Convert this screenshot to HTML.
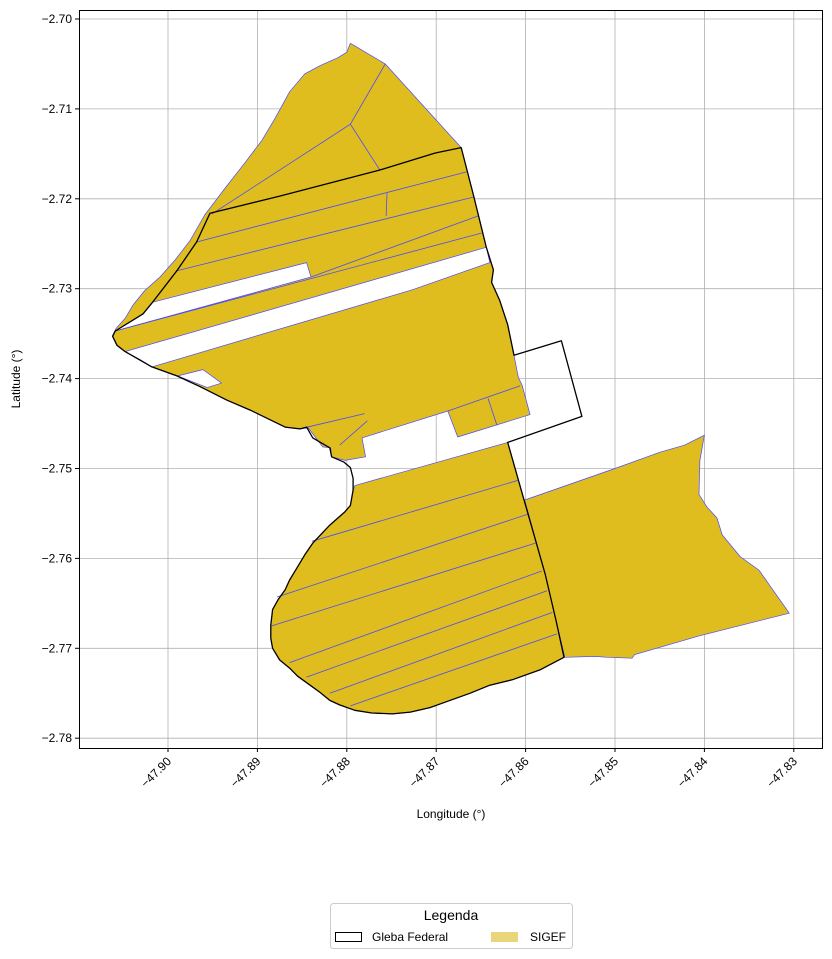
<!DOCTYPE html>
<html><head><meta charset="utf-8"><style>
body{margin:0;background:#fff;}
svg{display:block;font-family:"Liberation Sans","DejaVu Sans",sans-serif;}
</style></head><body>
<svg id="chart" width="832" height="959" viewBox="0 0 832 959">
<rect x="0" y="0" width="832" height="959" fill="#fff"/>
<g id="grid"></g>
<g id="layers"></g>
<rect x="79.5" y="10.5" width="743" height="738" fill="none" stroke="#000" stroke-width="1"/>
<g id="ticks"></g>
<text x="451" y="818" font-size="12" text-anchor="middle">Longitude (°)</text>
<text x="20" y="379" font-size="12" text-anchor="middle" transform="rotate(-90 20 379)">Latitude (°)</text>
<g>
<rect x="330.5" y="903.5" width="242" height="45" rx="3" fill="#fff" stroke="#ccc"/>
<text x="451" y="920" font-size="14" text-anchor="middle">Legenda</text>
<rect x="335.5" y="932.5" width="26" height="9" fill="#fff" stroke="#000"/>
<text x="372" y="941" font-size="12">Gleba Federal</text>
<rect x="491" y="932" width="27" height="10" fill="#e9d57a"/>
<text x="530" y="941" font-size="12">SIGEF</text>
</g>
</svg>
<script>
const xTicks=[-47.90,-47.89,-47.88,-47.87,-47.86,-47.85,-47.84,-47.83];
const xTickLabels=["\u221247.90","\u221247.89","\u221247.88","\u221247.87","\u221247.86","\u221247.85","\u221247.84","\u221247.83"];
const yTicks=[-2.70,-2.71,-2.72,-2.73,-2.74,-2.75,-2.76,-2.77,-2.78];
const yTickLabels=["\u22122.70","\u22122.71","\u22122.72","\u22122.73","\u22122.74","\u22122.75","\u22122.76","\u22122.77","\u22122.78"];

const sigefNorth=[[-47.9062,-2.7352],[-47.9058,-2.7344],[-47.9048,-2.7333],[-47.9039,-2.7318],[-47.9026,-2.7302],[-47.9009,-2.7287],[-47.8992,-2.7268],[-47.8975,-2.7246],[-47.8959,-2.7218],[-47.8936,-2.7188],[-47.8914,-2.7160],[-47.8895,-2.7135],[-47.8880,-2.7110],[-47.8864,-2.7081],[-47.8847,-2.7061],[-47.8830,-2.7052],[-47.8810,-2.7043],[-47.8800,-2.7037],[-47.8796,-2.7027],[-47.8757,-2.7050],[-47.8672,-2.7143],[-47.8658,-2.7197],[-47.8644,-2.7254],[-47.8636,-2.7279],[-47.8638,-2.7293],[-47.8629,-2.7313],[-47.8620,-2.7340],[-47.8613,-2.7374],[-47.8608,-2.7399],[-47.8604,-2.7407],[-47.8595,-2.7440],[-47.8676,-2.7465],[-47.8687,-2.7436],[-47.8783,-2.7466],[-47.8779,-2.7487],[-47.8802,-2.7491],[-47.8817,-2.7487],[-47.8818,-2.7477],[-47.8827,-2.7476],[-47.8843,-2.7455],[-47.8855,-2.7456],[-47.8869,-2.7454],[-47.8908,-2.7435],[-47.8934,-2.7424],[-47.8964,-2.7409],[-47.8990,-2.7397],[-47.9018,-2.7387],[-47.9048,-2.7370],[-47.9057,-2.7363],[-47.9062,-2.7353]];
const sigefSouth=[[-47.8791,-2.7519],[-47.8620,-2.7471],[-47.8600,-2.7541],[-47.8578,-2.7618],[-47.8566,-2.7669],[-47.8557,-2.7710],[-47.8584,-2.7724],[-47.8615,-2.7735],[-47.8640,-2.7741],[-47.8662,-2.7750],[-47.8690,-2.7760],[-47.8707,-2.7766],[-47.8729,-2.7771],[-47.8749,-2.7773],[-47.8772,-2.7772],[-47.8791,-2.7769],[-47.8808,-2.7763],[-47.8819,-2.7758],[-47.8830,-2.7749],[-47.8841,-2.7741],[-47.8855,-2.7731],[-47.8864,-2.7722],[-47.8875,-2.7713],[-47.8883,-2.7700],[-47.8885,-2.7689],[-47.8885,-2.7674],[-47.8883,-2.7657],[-47.8877,-2.7646],[-47.8869,-2.7635],[-47.8864,-2.7624],[-47.8856,-2.7611],[-47.8847,-2.7596],[-47.8838,-2.7583],[-47.8819,-2.7563],[-47.8802,-2.7548],[-47.8796,-2.7541],[-47.8793,-2.7524]];
const sigefEast=[[-47.8601,-2.7535],[-47.8500,-2.7500],[-47.8450,-2.7482],[-47.8422,-2.7474],[-47.8400,-2.7463],[-47.8405,-2.7491],[-47.8406,-2.7529],[-47.8397,-2.7543],[-47.8386,-2.7555],[-47.8380,-2.7574],[-47.8360,-2.7598],[-47.8339,-2.7613],[-47.8305,-2.7661],[-47.8405,-2.7686],[-47.8478,-2.7707],[-47.8481,-2.7711],[-47.8509,-2.7710],[-47.8522,-2.7709],[-47.8556,-2.7710],[-47.8566,-2.7669],[-47.8578,-2.7618]];
const gapA=[[-47.9017,-2.7315],[-47.8845,-2.7271],[-47.8840,-2.7287],[-47.9059,-2.7347],[-47.9028,-2.7328]];
const gapB=[[-47.9048,-2.7370],[-47.8644,-2.7254],[-47.8640,-2.7271],[-47.8726,-2.7301],[-47.9018,-2.7387],[-47.9031,-2.7379]];
const gapC=[[-47.8989,-2.7397],[-47.8961,-2.7390],[-47.8940,-2.7405],[-47.8956,-2.7410]];
const parcelLines=[
[[-47.8951,-2.7217],[-47.8796,-2.7117]],[[-47.8796,-2.7117],[-47.8757,-2.7050]],[[-47.8796,-2.7117],[-47.8763,-2.7168]],
[[-47.8968,-2.7248],[-47.8666,-2.7170]],[[-47.8990,-2.7280],[-47.8658,-2.7198]],[[-47.8840,-2.7287],[-47.8653,-2.7219]],
[[-47.9059,-2.7347],[-47.8649,-2.7238]],[[-47.8755,-2.7194],[-47.8756,-2.7219]],[[-47.8687,-2.7436],[-47.8606,-2.7408]],
[[-47.8642,-2.7422],[-47.8632,-2.7452]],[[-47.8853,-2.7456],[-47.8780,-2.7439]],[[-47.8777,-2.7447],[-47.8808,-2.7474]],
[[-47.8839,-2.7581],[-47.8608,-2.7513]],[[-47.8878,-2.7643],[-47.8598,-2.7551]],[[-47.8884,-2.7675],[-47.8589,-2.7583]],
[[-47.8864,-2.7716],[-47.8582,-2.7614]],[[-47.8845,-2.7732],[-47.8576,-2.7636]],[[-47.8819,-2.7750],[-47.8570,-2.7660]],
[[-47.8796,-2.7764],[-47.8565,-2.7684]]];
const glebaOutline=[[-47.8953,-2.7216],[-47.8875,-2.7197],[-47.8763,-2.7168],[-47.8701,-2.7149],[-47.8672,-2.7143],[-47.8658,-2.7197],[-47.8644,-2.7254],[-47.8636,-2.7279],[-47.8638,-2.7293],[-47.8629,-2.7313],[-47.8620,-2.7340],[-47.8613,-2.7374],[-47.8560,-2.7358],[-47.8537,-2.7442],[-47.8620,-2.7471],[-47.8600,-2.7541],[-47.8578,-2.7618],[-47.8566,-2.7669],[-47.8557,-2.7710],[-47.8584,-2.7724],[-47.8615,-2.7735],[-47.8640,-2.7741],[-47.8662,-2.7750],[-47.8690,-2.7760],[-47.8707,-2.7766],[-47.8729,-2.7771],[-47.8749,-2.7773],[-47.8772,-2.7772],[-47.8791,-2.7769],[-47.8808,-2.7763],[-47.8819,-2.7758],[-47.8830,-2.7749],[-47.8841,-2.7741],[-47.8855,-2.7731],[-47.8864,-2.7722],[-47.8875,-2.7713],[-47.8883,-2.7700],[-47.8885,-2.7689],[-47.8885,-2.7674],[-47.8883,-2.7657],[-47.8877,-2.7646],[-47.8869,-2.7635],[-47.8864,-2.7624],[-47.8856,-2.7611],[-47.8847,-2.7596],[-47.8838,-2.7583],[-47.8819,-2.7563],[-47.8802,-2.7548],[-47.8796,-2.7541],[-47.8793,-2.7524],[-47.8793,-2.7511],[-47.8796,-2.7499],[-47.8803,-2.7493],[-47.8817,-2.7487],[-47.8819,-2.7477],[-47.8838,-2.7466],[-47.8845,-2.7454],[-47.8852,-2.7456],[-47.8869,-2.7454],[-47.8908,-2.7435],[-47.8934,-2.7424],[-47.8964,-2.7409],[-47.8990,-2.7397],[-47.9018,-2.7387],[-47.9048,-2.7370],[-47.9057,-2.7363],[-47.9062,-2.7353],[-47.9059,-2.7347],[-47.9028,-2.7328],[-47.9018,-2.7316],[-47.8990,-2.7280],[-47.8968,-2.7248],[-47.8953,-2.7216]];

const NS="http://www.w3.org/2000/svg";
function xS(lon){return 168+(lon+47.90)*8940;}
function yS(lat){return 19+(-2.70-lat)*8990;}
function pts(a){return a.map(p=>xS(p[0]).toFixed(1)+","+yS(p[1]).toFixed(1)).join(" ");}
const grid=document.getElementById("grid"),ticks=document.getElementById("ticks"),layers=document.getElementById("layers");
xTicks.forEach((v,i)=>{
  const x=xS(v);
  const g=document.createElementNS(NS,"line");
  
  
  g.setAttribute("x1",x);g.setAttribute("x2",x);g.setAttribute("y1",10);g.setAttribute("y2",748);
  g.setAttribute("stroke","#b0b0b0");g.setAttribute("stroke-width","0.8");grid.appendChild(g);
  const t=document.createElementNS(NS,"line");
  
  
  t.setAttribute("x1",x);t.setAttribute("x2",x);t.setAttribute("y1",748);t.setAttribute("y2",752);t.setAttribute("stroke","#000");ticks.appendChild(t);
  const l=document.createElementNS(NS,"text");
  
  
  l.setAttribute("x",x+4);l.setAttribute("y",762);l.setAttribute("font-size","12");l.setAttribute("text-anchor","end");
  l.setAttribute("transform","rotate(-45 "+(x+4)+" 762)");l.textContent=xTickLabels[i];ticks.appendChild(l);
});
yTicks.forEach((v,i)=>{
  const y=yS(v);
  const g=document.createElementNS(NS,"line");
  
  
  g.setAttribute("x1",79);g.setAttribute("x2",823);g.setAttribute("y1",y);g.setAttribute("y2",y);
  g.setAttribute("stroke","#b0b0b0");g.setAttribute("stroke-width","0.8");grid.appendChild(g);
  const t=document.createElementNS(NS,"line");
  
  
  t.setAttribute("x1",75);t.setAttribute("x2",79);t.setAttribute("y1",y);t.setAttribute("y2",y);t.setAttribute("stroke","#000");ticks.appendChild(t);
  const l=document.createElementNS(NS,"text");
  
  
  l.setAttribute("x",72);l.setAttribute("y",y+4);l.setAttribute("font-size","12");l.setAttribute("text-anchor","end");
  l.textContent=yTickLabels[i];ticks.appendChild(l);
});
function poly(a,fill,stroke,sw,name){
  const p=document.createElementNS(NS,"polygon");
  
  
  p.setAttribute("points",pts(a));p.setAttribute("fill",fill);p.setAttribute("stroke",stroke);p.setAttribute("stroke-width",sw);
  p.setAttribute("stroke-linejoin","round");layers.appendChild(p);
}
poly(sigefNorth,"#dfbd1f","#4a4aff","0.7","sigef-north");
poly(sigefSouth,"#dfbd1f","#4a4aff","0.7","sigef-south");
poly(sigefEast,"#dfbd1f","#4a4aff","0.7","sigef-east");
poly(gapA,"#ffffff","#4a4aff","0.7","gap-a");
poly(gapB,"#ffffff","#4a4aff","0.7","gap-b");
poly(gapC,"#ffffff","#4a4aff","0.7","gap-c");
parcelLines.forEach(s=>{
  const l=document.createElementNS(NS,"line");
  
  
  l.setAttribute("x1",xS(s[0][0]));l.setAttribute("y1",yS(s[0][1]));l.setAttribute("x2",xS(s[1][0]));l.setAttribute("y2",yS(s[1][1]));
  l.setAttribute("stroke","#4a4aff");l.setAttribute("stroke-width","0.8");layers.appendChild(l);
});
poly(glebaOutline,"none","#000","1.3","gleba-federal-outline");
</script>
</body></html>
